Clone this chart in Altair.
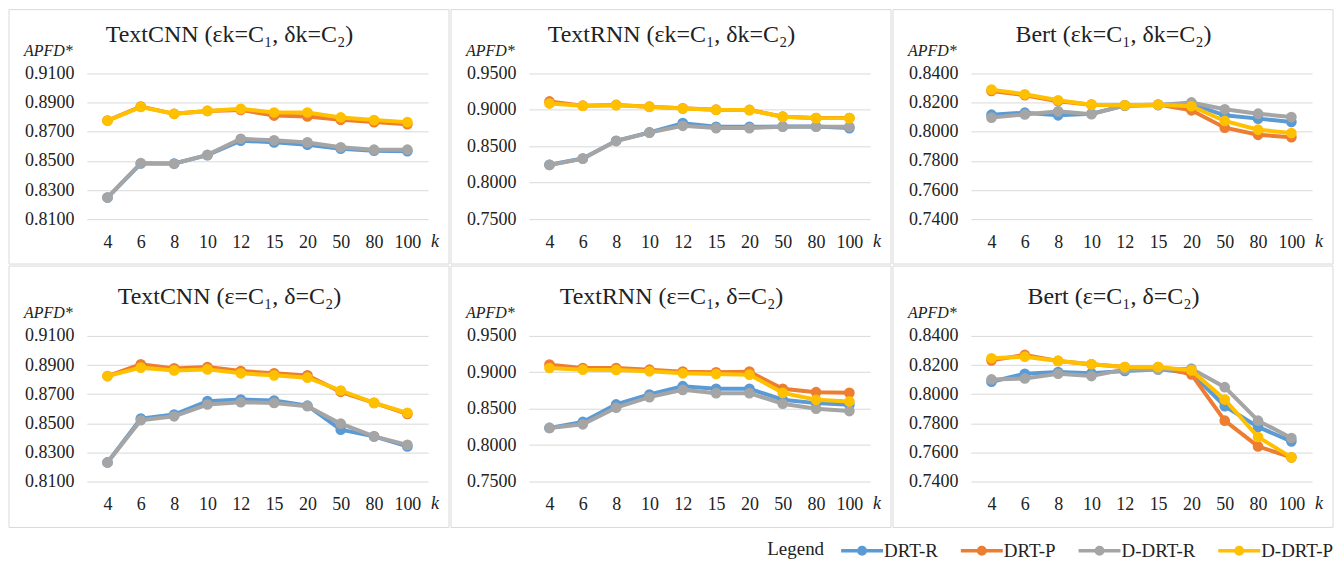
import altair as alt
import pandas as pd

# ---------------- data ----------------
K_LABELS = ["4", "6", "8", "10", "12", "15", "20", "50", "80", "100"]
SERIES = ["DRT-R", "DRT-P", "D-DRT-R", "D-DRT-P"]
COLORS = ["#5B9BD5", "#ED7D31", "#A5A5A5", "#FFC000"]

TITLES = [
    "TextCNN (εk=C₁, δk=C₂)",
    "TextRNN (εk=C₁, δk=C₂)",
    "Bert (εk=C₁, δk=C₂)",
    "TextCNN (ε=C₁, δ=C₂)",
    "TextRNN (ε=C₁, δ=C₂)",
    "Bert (ε=C₁, δ=C₂)",
]

# panel 1: TextCNN (εk=C1, δk=C2)
P1_DRT_R = [0.8248, 0.8482, 0.8482, 0.8539, 0.8639, 0.8627, 0.8611, 0.8584, 0.8570, 0.8566]
P1_DRT_P = [0.8777, 0.8873, 0.8823, 0.8843, 0.8850, 0.8811, 0.8805, 0.8782, 0.8766, 0.8752]
P1_DDRT_R = [0.8248, 0.8484, 0.8480, 0.8541, 0.8652, 0.8641, 0.8627, 0.8593, 0.8577, 0.8577]
P1_DDRT_P = [0.8775, 0.8870, 0.8823, 0.8843, 0.8857, 0.8832, 0.8832, 0.8798, 0.8780, 0.8766]

# panel 2: TextRNN (εk=C1, δk=C2)
P2_DRT_R = [0.8246, 0.8333, 0.8576, 0.8690, 0.8818, 0.8768, 0.8768, 0.8773, 0.8773, 0.8750]
P2_DRT_P = [0.9116, 0.9058, 0.9068, 0.9044, 0.9021, 0.9003, 0.8999, 0.8907, 0.8889, 0.8889]
P2_DDRT_R = [0.8244, 0.8331, 0.8572, 0.8688, 0.8782, 0.8750, 0.8750, 0.8770, 0.8770, 0.8768]
P2_DDRT_P = [0.9087, 0.9056, 0.9065, 0.9042, 0.9019, 0.9001, 0.8997, 0.8905, 0.8887, 0.8887]

# panel 3: Bert (εk=C1, δk=C2)
P3_DRT_R = [0.8117, 0.8131, 0.8113, 0.8124, 0.8179, 0.8183, 0.8190, 0.8113, 0.8090, 0.8067]
P3_DRT_P = [0.8280, 0.8251, 0.8209, 0.8186, 0.8182, 0.8186, 0.8147, 0.8028, 0.7979, 0.7963]
P3_DDRT_R = [0.8097, 0.8119, 0.8140, 0.8120, 0.8181, 0.8184, 0.8201, 0.8154, 0.8124, 0.8101]
P3_DDRT_P = [0.8289, 0.8257, 0.8216, 0.8186, 0.8182, 0.8186, 0.8175, 0.8074, 0.8014, 0.7991]

# panel 4: TextCNN (ε=C1, δ=C2)
P4_DRT_R = [0.8231, 0.8532, 0.8560, 0.8652, 0.8663, 0.8656, 0.8621, 0.8456, 0.8410, 0.8341]
P4_DRT_P = [0.8824, 0.8905, 0.8877, 0.8886, 0.8859, 0.8843, 0.8829, 0.8716, 0.8640, 0.8564]
P4_DDRT_R = [0.8231, 0.8521, 0.8548, 0.8629, 0.8645, 0.8640, 0.8617, 0.8497, 0.8410, 0.8352]
P4_DDRT_P = [0.8824, 0.8882, 0.8863, 0.8870, 0.8843, 0.8829, 0.8813, 0.8725, 0.8640, 0.8572]

# panel 5: TextRNN (ε=C1, δ=C2)
P5_DRT_R = [0.8236, 0.8318, 0.8559, 0.8695, 0.8809, 0.8773, 0.8773, 0.8623, 0.8577, 0.8555]
P5_DRT_P = [0.9105, 0.9059, 0.9059, 0.9036, 0.9009, 0.9000, 0.9009, 0.8773, 0.8727, 0.8718]
P5_DDRT_R = [0.8236, 0.8286, 0.8514, 0.8659, 0.8759, 0.8714, 0.8714, 0.8568, 0.8500, 0.8468]
P5_DDRT_P = [0.9059, 0.9036, 0.9032, 0.9014, 0.8986, 0.8977, 0.8968, 0.8718, 0.8623, 0.8600]

# panel 6: Bert (ε=C1, δ=C2)
P6_DRT_R = [0.8085, 0.8140, 0.8152, 0.8143, 0.8159, 0.8170, 0.8147, 0.7917, 0.7775, 0.7676]
P6_DRT_P = [0.8232, 0.8269, 0.8228, 0.8205, 0.8186, 0.8186, 0.8136, 0.7818, 0.7641, 0.7566]
P6_DDRT_R = [0.8101, 0.8108, 0.8140, 0.8124, 0.8170, 0.8170, 0.8175, 0.8048, 0.7818, 0.7699]
P6_DDRT_P = [0.8246, 0.8257, 0.8228, 0.8205, 0.8186, 0.8186, 0.8163, 0.7963, 0.7706, 0.7566]

Y_CNN = [0.8100, 0.8300, 0.8500, 0.8700, 0.8900, 0.9100]
Y_RNN = [0.7500, 0.8000, 0.8500, 0.9000, 0.9500]
Y_BERT = [0.7400, 0.7600, 0.7800, 0.8000, 0.8200, 0.8400]

PANELS = [
    (TITLES[0], [P1_DRT_R, P1_DRT_P, P1_DDRT_R, P1_DDRT_P], Y_CNN),
    (TITLES[1], [P2_DRT_R, P2_DRT_P, P2_DDRT_R, P2_DDRT_P], Y_RNN),
    (TITLES[2], [P3_DRT_R, P3_DRT_P, P3_DDRT_R, P3_DDRT_P], Y_BERT),
    (TITLES[3], [P4_DRT_R, P4_DRT_P, P4_DDRT_R, P4_DDRT_P], Y_CNN),
    (TITLES[4], [P5_DRT_R, P5_DRT_P, P5_DDRT_R, P5_DDRT_P], Y_RNN),
    (TITLES[5], [P6_DRT_R, P6_DRT_P, P6_DDRT_R, P6_DDRT_P], Y_BERT),
]

# ---------------- styling ----------------
FONT = "Liberation Serif"
TEXT = "#222222"
GRID = "#d9d9d9"
W, H = 342, 146
LEGEND_PATH = (
    "M-2.1,0H2.1"
    "M-0.33,0A0.33,0.33,0,1,0,0.33,0A0.33,0.33,0,1,0,-0.33,0"
    "M-0.15,0A0.15,0.15,0,1,0,0.15,0A0.15,0.15,0,1,0,-0.15,0"
)

legend = alt.Legend(
    title="Legend",
    orient="none",
    legendX=682,
    legendY=466,
    direction="horizontal",
    titleOrient="left",
    titleAnchor="middle",
    titleBaseline="middle",
    titleFont=FONT,
    titleFontSize=19,
    titleFontWeight="normal",
    titleColor=TEXT,
    titlePadding=26,
    labelFont=FONT,
    labelFontSize=19,
    labelColor=TEXT,
    labelOffset=10,
    columnPadding=15,
    symbolType=LEGEND_PATH,
    symbolSize=400,
    symbolStrokeWidth=3.5,
    padding=0,
)


def make_panel(title, series_values, yticks, box_top, box_bottom):
    rows = []
    for s, vals in zip(SERIES, series_values):
        for k, v in zip(K_LABELS, vals):
            rows.append({"k": k, "series": s, "apfd": v})
    df = pd.DataFrame(rows)

    x = alt.X(
        "k:O",
        sort=K_LABELS,
        title=None,
        scale=alt.Scale(type="point", padding=0.62),
        axis=alt.Axis(
            domain=False, ticks=False, tickSize=0, grid=False, labelAngle=0,
            labelFont=FONT, labelFontSize=18, labelColor=TEXT,
            labelBaseline="alphabetic", labelPadding=28,
        ),
    )
    y = alt.Y(
        "apfd:Q",
        title=None,
        scale=alt.Scale(domain=[yticks[0], yticks[-1]], zero=False, nice=False),
        axis=alt.Axis(
            values=yticks, format=".4f", domain=False, ticks=False, tickSize=0,
            grid=True, gridColor=GRID, gridWidth=1,
            labelFont=FONT, labelFontSize=18, labelColor=TEXT, labelPadding=13,
        ),
    )
    color = alt.Color("series:N", scale=alt.Scale(domain=SERIES, range=COLORS), legend=legend)

    info = pd.DataFrame({"title": [title], "ylab": ["APFD*"], "xlab": ["k"]})
    base_info = alt.Chart(info)

    box = base_info.mark_rect(filled=False, stroke="#d9d9d9", strokeWidth=1).encode(
        x=alt.value(-78), x2=alt.value(W + 21),
        y=alt.value(box_top), y2=alt.value(H + box_bottom),
    )
    ttl = base_info.mark_text(
        font=FONT, fontSize=24, color=TEXT, align="center", baseline="alphabetic"
    ).encode(x=alt.value(143), y=alt.value(-32), text="title:N")
    ylab = base_info.mark_text(
        font=FONT, fontSize=16, fontStyle="italic", color=TEXT, align="left", baseline="alphabetic"
    ).encode(x=alt.value(-63), y=alt.value(-18), text="ylab:N")
    xlab = base_info.mark_text(
        font=FONT, fontSize=18, fontStyle="italic", color=TEXT, align="left", baseline="alphabetic"
    ).encode(x=alt.value(W + 3), y=alt.value(H + 28), text="xlab:N")

    layers = [box, ttl, ylab, xlab]
    for s in SERIES:
        layers.append(
            alt.Chart(df)
            .transform_filter(alt.datum.series == s)
            .mark_line(
                strokeWidth=4,
                point=alt.OverlayMarkDef(filled=True, size=115, opacity=1),
            )
            .encode(x=x, y=y, color=color)
        )
    return alt.layer(*layers).properties(width=W, height=H)


panels = []
for i, (t, vals, yt) in enumerate(PANELS):
    if i < 3:
        panels.append(make_panel(t, vals, yt, -64, 45))
    else:
        panels.append(make_panel(t, vals, yt, -70, 46))

row1 = alt.hconcat(*panels[:3], spacing=0)
row2 = alt.hconcat(*panels[3:], spacing=0)

chart = (
    alt.vconcat(row1, row2, spacing=0)
    .properties(padding=0, background="white")
    .configure_view(strokeWidth=0)
)

chart.save("out.html", embed_options={"renderer": "svg", "actions": False})
